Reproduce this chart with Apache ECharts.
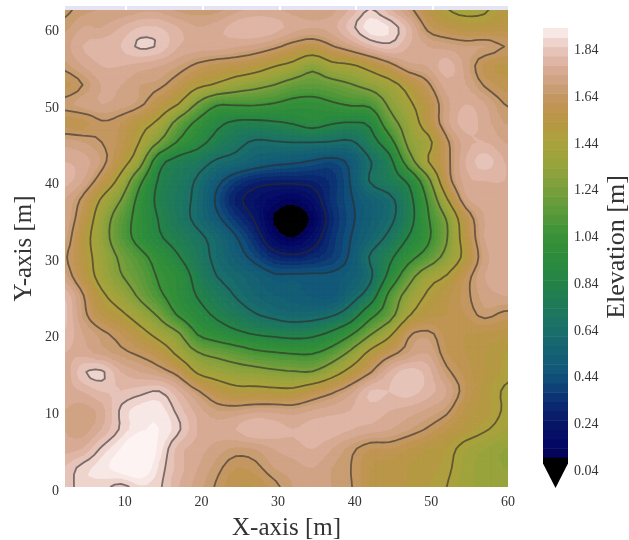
<!DOCTYPE html>
<html><head><meta charset="utf-8">
<style>html,body{margin:0;padding:0;background:#fff}#c{width:629px;height:540px;filter:blur(0.45px)}</style>
<script src="https://cdn.jsdelivr.net/npm/echarts@6/dist/echarts.min.js"></script>
</head><body><div id="c"></div>
<script>
// Grid positions of the elevation samples [m]
const xSamples=[2,4.5,7,9.5,12,14.5,17,19.5,22,24.5,27,29.5,32,34.5,37,39.5,42,44.5,47,49.5,52,54.5,57,59.5,62];
const ySamples=[0,2.5,5,7.5,10,12.5,15,17.5,20,22.5,25,27.5,30,32.5,35,37.5,40,42.5,45,47.5,50,52.5,55,57.5,60,62.5];
// Elevation [m], one array per y sample
const y00=[1.80,1.87,1.86,1.82,1.87,1.85,1.76,1.70,1.63,1.56,1.56,1.62,1.68,1.70,1.68,1.645,1.56,1.54,1.52,1.48,1.44,1.38,1.34,1.34,1.34];
const y01=[1.80,1.86,1.90,1.95,1.98,1.87,1.78,1.72,1.66,1.60,1.62,1.68,1.70,1.72,1.68,1.64,1.56,1.54,1.52,1.50,1.46,1.38,1.34,1.32,1.32];
const y02=[1.74,1.76,1.85,1.92,2.00,1.90,1.78,1.74,1.70,1.67,1.68,1.72,1.74,1.76,1.72,1.66,1.60,1.60,1.56,1.52,1.48,1.40,1.36,1.32,1.32];
const y03=[1.72,1.70,1.76,1.85,1.91,1.92,1.85,1.76,1.74,1.76,1.80,1.78,1.76,1.78,1.78,1.76,1.74,1.72,1.68,1.63,1.56,1.50,1.45,1.40,1.38];
const y04=[1.72,1.70,1.74,1.85,1.90,1.90,1.82,1.74,1.68,1.68,1.70,1.70,1.69,1.72,1.74,1.76,1.78,1.76,1.74,1.71,1.66,1.54,1.50,1.43,1.40];
const y05=[1.74,1.76,1.80,1.80,1.82,1.84,1.76,1.65,1.55,1.49,1.49,1.48,1.48,1.55,1.62,1.70,1.80,1.80,1.82,1.78,1.72,1.60,1.50,1.43,1.40];
const y06=[1.72,1.83,1.85,1.76,1.72,1.68,1.60,1.42,1.36,1.32,1.30,1.27,1.25,1.25,1.36,1.50,1.63,1.76,1.82,1.78,1.66,1.58,1.52,1.47,1.45];
const y07=[1.76,1.74,1.70,1.66,1.62,1.55,1.40,1.25,1.19,1.14,1.08,1.05,1.03,1.03,1.12,1.28,1.48,1.60,1.68,1.72,1.60,1.56,1.52,1.48,1.46];
const y08=[1.80,1.72,1.66,1.60,1.50,1.38,1.26,1.03,0.95,0.88,0.83,0.80,0.78,0.80,0.88,1.02,1.22,1.40,1.62,1.66,1.58,1.56,1.55,1.54,1.54];
const y09=[1.82,1.67,1.55,1.47,1.35,1.21,1.02,0.91,0.81,0.73,0.65,0.60,0.57,0.58,0.62,0.74,0.98,1.16,1.42,1.53,1.56,1.60,1.66,1.62,1.62];
const y10=[1.80,1.65,1.47,1.35,1.21,1.07,0.95,0.83,0.73,0.63,0.56,0.52,0.50,0.47,0.46,0.57,0.73,1.08,1.31,1.46,1.54,1.62,1.70,1.72,1.72];
const y11=[1.70,1.55,1.38,1.25,1.15,1.02,0.94,0.78,0.64,0.58,0.52,0.46,0.46,0.46,0.46,0.50,0.61,0.89,1.16,1.36,1.45,1.60,1.72,1.72,1.72];
const y12=[1.66,1.52,1.36,1.21,1.09,0.97,0.85,0.72,0.60,0.50,0.40,0.30,0.27,0.30,0.36,0.46,0.65,0.80,0.98,1.12,1.30,1.49,1.70,1.74,1.74];
const y13=[1.70,1.52,1.32,1.13,0.98,0.86,0.77,0.68,0.58,0.45,0.31,0.14,0.08,0.18,0.33,0.44,0.55,0.68,0.85,1.01,1.23,1.53,1.72,1.74,1.74];
const y14=[1.72,1.57,1.34,1.14,0.97,0.83,0.71,0.60,0.47,0.34,0.23,0.07,0.02,0.10,0.30,0.42,0.51,0.60,0.77,1.02,1.25,1.56,1.72,1.74,1.74];
const y15=[1.72,1.62,1.42,1.24,0.98,0.80,0.70,0.60,0.42,0.27,0.20,0.14,0.11,0.18,0.33,0.43,0.52,0.60,0.78,1.06,1.42,1.70,1.74,1.75,1.74];
const y16=[1.78,1.72,1.58,1.38,1.08,0.82,0.73,0.62,0.48,0.36,0.29,0.27,0.27,0.28,0.33,0.45,0.65,0.75,0.87,1.18,1.58,1.74,1.76,1.76,1.75];
const y17=[1.76,1.74,1.67,1.52,1.31,0.91,0.78,0.72,0.62,0.58,0.52,0.48,0.46,0.43,0.40,0.47,0.63,0.78,1.14,1.43,1.61,1.76,1.82,1.76,1.72];
const y18=[1.70,1.68,1.64,1.58,1.43,1.23,1.02,0.90,0.78,0.69,0.62,0.63,0.64,0.64,0.63,0.62,0.76,0.96,1.28,1.39,1.62,1.74,1.76,1.72,1.70];
const y19=[1.58,1.58,1.63,1.60,1.50,1.40,1.17,1.00,0.88,0.81,0.80,0.82,0.85,0.90,0.85,0.83,0.87,1.15,1.33,1.52,1.70,1.78,1.74,1.68,1.68];
const y20=[1.66,1.70,1.72,1.70,1.66,1.55,1.44,1.22,1.06,1.06,1.06,1.03,0.99,0.98,1.02,1.06,1.08,1.27,1.41,1.54,1.70,1.76,1.72,1.64,1.62];
const y21=[1.58,1.64,1.72,1.72,1.68,1.66,1.58,1.48,1.42,1.34,1.29,1.24,1.17,1.15,1.18,1.23,1.30,1.38,1.50,1.62,1.74,1.72,1.63,1.58,1.58];
const y22=[1.66,1.72,1.76,1.76,1.74,1.72,1.68,1.62,1.58,1.56,1.52,1.45,1.39,1.29,1.39,1.42,1.50,1.60,1.70,1.72,1.78,1.70,1.58,1.55,1.55];
const y23=[1.70,1.76,1.78,1.80,1.85,1.83,1.76,1.74,1.74,1.72,1.70,1.66,1.60,1.56,1.63,1.70,1.78,1.82,1.76,1.72,1.70,1.68,1.68,1.64,1.62];
const y24=[1.66,1.72,1.72,1.76,1.80,1.80,1.76,1.72,1.74,1.78,1.80,1.78,1.74,1.72,1.74,1.82,1.90,1.88,1.78,1.62,1.56,1.52,1.52,1.54,1.56];
const y25=[1.62,1.66,1.68,1.68,1.70,1.70,1.66,1.66,1.66,1.70,1.72,1.72,1.70,1.68,1.70,1.76,1.84,1.76,1.66,1.55,1.44,1.40,1.42,1.50,1.52];
const elevation=[y00,y01,y02,y03,y04,y05,y06,y07,y08,y09,y10,y11,y12,y13,y14,y15,y16,y17,y18,y19,y20,y21,y22,y23,y24,y25];

const xTicks=[10,20,30,40,50,60];
const yTicks=[0,10,20,30,40,50,60];
const barTicks=[0.04,0.24,0.44,0.64,0.84,1.04,1.24,1.44,1.64,1.84];
const contourLevels=[0.24,0.44,0.64,0.84,1.04,1.24,1.44,1.64,1.84];
const bandStep=0.04, bandLow=0.08, bandHigh=1.92;

const colorStops=[[0.08,'#02034f'],[0.12,'#030564'],[0.24,'#081868'],[0.34,'#0c3374'],[0.44,'#11557a'],[0.54,'#156272'],[0.64,'#1a7068'],[0.74,'#1f7a58'],[0.84,'#258445'],[0.94,'#2d8c3c'],[1.04,'#3b9238'],[1.14,'#5c9a3a'],[1.24,'#7da03c'],[1.34,'#98a33c'],[1.44,'#aca23c'],[1.52,'#b89644'],[1.60,'#c19455'],[1.64,'#c59a68'],[1.70,'#d0a385'],[1.76,'#dbae9b'],[1.82,'#e6c3b8'],[1.88,'#f2dcd8'],[1.92,'#fdf3f2']];
function hex(c){return [1,3,5].map(i=>parseInt(c.substr(i,2),16));}
function colorAt(v){
  if(v<bandLow) return '#000000';
  for(let i=1;i<colorStops.length;i++){
    if(v<=colorStops[i][0]){
      const a=colorStops[i-1],b=colorStops[i],t=(v-a[0])/(b[0]-a[0]),p=hex(a[1]),q=hex(b[1]);
      return 'rgb('+p.map((u,k)=>Math.round(u+(q[k]-u)*t)).join(',')+')';
    }
  }
  return colorStops[colorStops.length-1][1];
}
const bandEdges=[-9];
for(let k=0;bandLow+k*bandStep<=bandHigh+1e-6;k++) bandEdges.push(+(bandLow+k*bandStep).toFixed(2));
bandEdges.push(9);

// Contouring mesh: the surface through the read samples, as a contour plot draws it
const sub=3;
function cr(a,b,c,d,t){return 0.5*(2*b+(c-a)*t+(2*a-5*b+4*c-d)*t*t+(3*b-a-3*c+d)*t*t*t);}
function surf(fi,fj){
  const ny=elevation.length,nx=elevation[0].length;
  const i=Math.min(Math.floor(fi),nx-2),j=Math.min(Math.floor(fj),ny-2),u=fi-i,v=fj-j;
  const at=(a,b)=>elevation[Math.max(0,Math.min(ny-1,b))][Math.max(0,Math.min(nx-1,a))];
  const r=[-1,0,1,2].map(d=>cr(at(i-1,j+d),at(i,j+d),at(i+1,j+d),at(i+2,j+d),u));
  return cr(r[0],r[1],r[2],r[3],v);
}
const meshX=[],meshY=[],meshZ=[];
for(let i=0;i<=(xSamples.length-1)*sub;i++) meshX.push(xSamples[0]+(xSamples[1]-xSamples[0])*i/sub);
for(let j=0;j<=(ySamples.length-1)*sub;j++) meshY.push(ySamples[0]+(ySamples[1]-ySamples[0])*j/sub);
meshY.forEach((_,j)=>{meshZ.push(meshX.map((_,i)=>surf(i/sub,j/sub)));});

function clip(poly,level,above){
  const out=[];
  for(let i=0;i<poly.length;i++){
    const a=poly[i],b=poly[(i+1)%poly.length];
    const ia=above?a[2]>=level:a[2]<=level, ib=above?b[2]>=level:b[2]<=level;
    if(ia) out.push(a);
    if(ia!==ib){
      const t=(level-a[2])/(b[2]-a[2]);
      out.push([a[0]+(b[0]-a[0])*t,a[1]+(b[1]-a[1])*t,level]);
    }
  }
  return out;
}
function quad(i,j){return [[meshX[i],meshY[j],meshZ[j][i]],[meshX[i+1],meshY[j],meshZ[j][i+1]],[meshX[i+1],meshY[j+1],meshZ[j+1][i+1]],[meshX[i],meshY[j+1],meshZ[j+1][i]]];}
const pieces=[];
for(let j=0;j<meshY.length-1;j++)for(let i=0;i<meshX.length-1;i++){
  const q=quad(i,j);
  const vs=q.map(p=>p[2]),lo=Math.min(...vs),hi=Math.max(...vs);
  for(let b=0;b<bandEdges.length-1;b++){
    const e0=bandEdges[b],e1=bandEdges[b+1];
    if(hi<e0||lo>e1) continue;
    let p=clip(q,e0,true); if(p.length<3) continue;
    p=clip(p,e1,false); if(p.length<3) continue;
    pieces.push({poly:p,color:colorAt(e0<0?0:(e1>2?1.92:(e0+e1)/2))});
  }
}
function contourChains(level){
  const segs=[];
  const key=p=>p[0].toFixed(4)+','+p[1].toFixed(4);
  for(let j=0;j<meshY.length-1;j++)for(let i=0;i<meshX.length-1;i++){
    const q=quad(i,j),pts=[];
    for(let k=0;k<4;k++){
      const a=q[k],b=q[(k+1)%4];
      if((a[2]<level)!==(b[2]<level)){
        const t=(level-a[2])/(b[2]-a[2]);
        pts.push([a[0]+(b[0]-a[0])*t,a[1]+(b[1]-a[1])*t]);
      }
    }
    if(pts.length===2) segs.push([pts[0],pts[1]]);
    if(pts.length===4){segs.push([pts[0],pts[1]]);segs.push([pts[2],pts[3]]);}
  }
  const used=segs.map(()=>false),index={};
  segs.forEach((s,n)=>{s.forEach(p=>{(index[key(p)]=index[key(p)]||[]).push(n);});});
  const chains=[];
  segs.forEach((s,n)=>{
    if(used[n])return;
    used[n]=true;
    const chain=[s[0],s[1]];
    for(let dir=0;dir<2;dir++){
      for(;;){
        const end=chain[chain.length-1];
        const next=(index[key(end)]||[]).find(m=>!used[m]);
        if(next===undefined)break;
        used[next]=true;
        const t=segs[next];
        chain.push(key(t[0])===key(end)?t[1]:t[0]);
      }
      chain.reverse();
    }
    chains.push(chain);
  });
  return chains;
}
const chains=[];
contourLevels.forEach(l=>contourChains(l).forEach(c=>chains.push(c)));

const serif="'Liberation Serif',serif";
const stripe={fill:'#e4e4f4'};
const chart=echarts.init(document.getElementById('c'),null,{renderer:'canvas'});
chart.setOption({
  animation:false,
  backgroundColor:'#fff',
  grid:[
    {left:65,right:121,top:10,bottom:53,show:false,outerBoundsMode:'none'},
    {left:543,width:25,top:28,height:460,show:false,outerBoundsMode:'none'}
  ],
  xAxis:[
    {type:'value',gridIndex:0,min:2.2,max:60,position:'bottom',name:'X-axis [m]',nameLocation:'middle',nameGap:29,
      nameTextStyle:{fontFamily:serif,fontSize:25,color:'#333'},
      axisLine:{show:false},axisTick:{show:false},splitLine:{show:false},
      axisLabel:{customValues:xTicks,fontFamily:serif,fontSize:14,color:'#333',margin:8}},
    {type:'value',gridIndex:1,min:0,max:1,show:false}
  ],
  yAxis:[
    {type:'value',gridIndex:0,min:0,max:62.27,name:'Y-axis [m]',nameLocation:'middle',nameGap:28,nameRotate:90,nameMoveOverlap:false,
      nameTextStyle:{fontFamily:serif,fontSize:25,color:'#333'},
      axisLine:{show:false},axisTick:{show:false},splitLine:{show:false},
      axisLabel:{customValues:yTicks,fontFamily:serif,fontSize:14,color:'#333',margin:6,verticalAlign:'top',lineHeight:8}},
    {type:'value',gridIndex:1,min:-0.05,max:1.92,position:'right',name:'Elevation [m]',nameLocation:'middle',nameGap:36,nameRotate:90,nameMoveOverlap:false,
      nameTextStyle:{fontFamily:serif,fontSize:26,color:'#333',padding:[0,0,0,22]},
      axisLine:{show:false},axisTick:{show:false},splitLine:{show:false},
      axisLabel:{customValues:barTicks,fontFamily:serif,fontSize:14,color:'#333',margin:6,verticalAlign:'top',lineHeight:8,formatter:v=>(+v).toFixed(2)}}
  ],
  series:[
    {type:'custom',xAxisIndex:0,yAxisIndex:0,clip:true,silent:true,progressive:0,coordinateSystem:'cartesian2d',
     data:pieces.map((p,i)=>[p.poly[0][0],p.poly[0][1],i]),encode:{x:0,y:1},
     renderItem(params,api){
       const p=pieces[api.value(2)];
       return {type:'polygon',shape:{points:p.poly.map(v=>api.coord([v[0],v[1]]))},
         style:{fill:p.color,stroke:p.color,lineWidth:1}};
     }},
    {type:'custom',xAxisIndex:0,yAxisIndex:0,clip:true,silent:true,progressive:0,coordinateSystem:'cartesian2d',
     data:chains.map((c,i)=>[c[0][0],c[0][1],i]),encode:{x:0,y:1},
     renderItem(params,api){
       const c=chains[api.value(2)];
       return {type:'polyline',shape:{points:c.map(v=>api.coord(v))},
         style:{fill:null,stroke:'rgba(45,40,40,0.6)',lineWidth:1.8,lineJoin:'round'}};
     }},
    {type:'custom',xAxisIndex:1,yAxisIndex:1,silent:true,coordinateSystem:'cartesian2d',
     data:bandEdges.slice(1,-2).map((e,i)=>[0,e,i]),encode:{x:0,y:1},
     renderItem(params,api){
       const e=bandEdges[api.value(2)+1],f=bandEdges[api.value(2)+2];
       const a=api.coord([0,f]),b=api.coord([1,e]);
       return {type:'rect',shape:{x:a[0],y:a[1],width:b[0]-a[0],height:b[1]-a[1]+0.5},style:{fill:colorAt((e+f)/2)}};
     }},
    {type:'custom',xAxisIndex:1,yAxisIndex:1,silent:true,coordinateSystem:'cartesian2d',
     data:[[0,0.08]],encode:{x:0,y:1},
     renderItem(params,api){
       return {type:'polygon',shape:{points:[[0,0.08],[1,0.08],[1,0.055],[0.5,-0.05],[0,0.055]].map(v=>api.coord(v))},style:{fill:'#000'}};
     }}
  ],
  graphic:[[65,125],[127,202],[204,279],[281,355],[357,432],[434,508]].map(s=>({type:'rect',silent:true,shape:{x:s[0],y:6,width:s[1]-s[0],height:4},style:stripe}))
});
</script></body></html>
